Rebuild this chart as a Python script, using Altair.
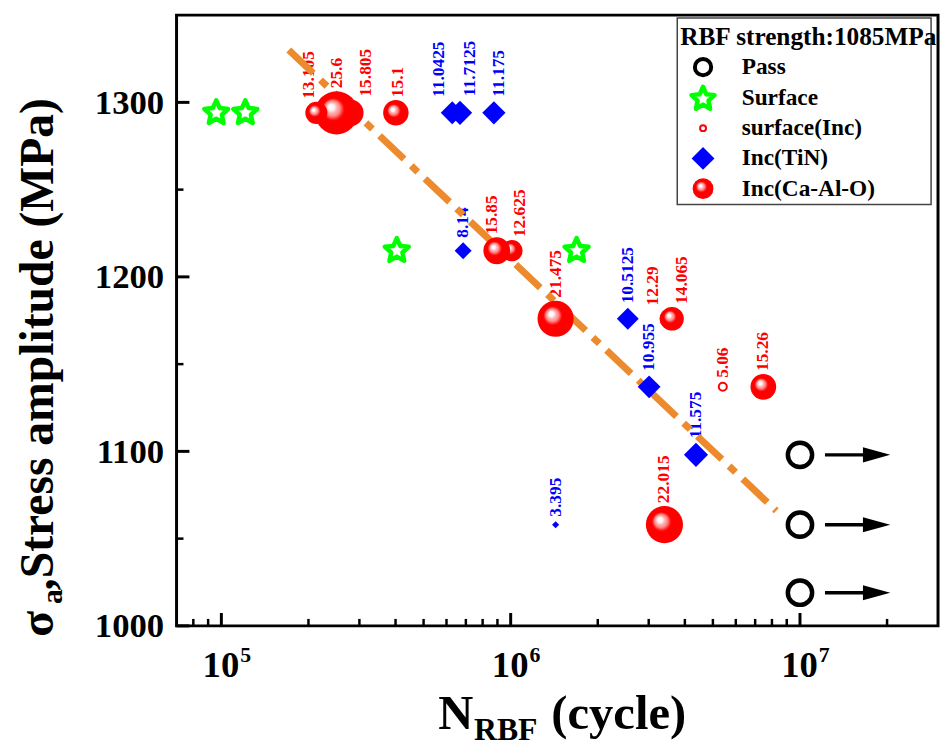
import math
import altair as alt
import pandas as pd

# ---------------- data ----------------
# Surface-initiated failures (green stars)
surface_N = [9.6e4, 1.21e5, 4.04e5, 1.69e6]
surface_S = [1294, 1294, 1215, 1215]

# Inclusion Ca-Al-O (red spheres); value = inclusion size label
cao_N = [2.79e5, 2.50e5, 2.13e5, 4.01e5, 1.01e6, 8.95e5, 1.43e6, 3.55e6, 3.61e6, 7.47e6, 3.40e6]
cao_S = [1294, 1294, 1294, 1294, 1215, 1215, 1176, 1176, 1176, 1137, 1058]
cao_v = [15.805, 25.6, 13.105, 15.1, 12.625, 15.85, 21.475, 12.29, 14.065, 15.26, 22.015]

# Inclusion TiN (blue diamonds)
tin_N = [6.28e5, 6.68e5, 8.75e5, 6.85e5, 2.54e6, 3.01e6, 4.37e6, 1.43e6]
tin_S = [1294, 1294, 1294, 1215, 1176, 1137, 1098, 1058]
tin_v = [11.0425, 11.7125, 11.175, 8.14, 10.5125, 10.955, 11.575, 3.395]

# surface(Inc) (small open red circle)
sinc_N = [5.41e6]
sinc_S = [1137]
sinc_v = [5.06]

# Run-outs (Pass)
pass_N = [1e7, 1e7, 1e7]
pass_S = [1098, 1058, 1019]

# Fitted S-N line (end points)
fit_N = [1.71e5, 8.28e6]
fit_S = [1330, 1066]

# Axis ticks
x_major = [1e5, 1e6, 1e7]
x_exp = ["5", "6", "7"]
x_minor = [8e4, 9e4, 2e5, 3e5, 4e5, 5e5, 6e5, 7e5, 8e5, 9e5,
           2e6, 3e6, 4e6, 5e6, 6e6, 7e6, 8e6, 9e6, 2e7]
y_major = [1000, 1100, 1200, 1300]
y_minor = [1050, 1150, 1250]

legend_title = "RBF strength:1085MPa"
legend_labels = ["Pass", "Surface", "surface(Inc)", "Inc(TiN)", "Inc(Ca-Al-O)"]

# label nudges (pixels, horizontal) to avoid overlapping annotations
label_nudge_px = {"13.105": -7, "15.805": 16, "25.6": 1, "15.1": 2, "12.625": 8, "15.85": -5,
                  "12.29": -17, "14.065": 10, "11.0425": -13, "11.7125": 10, "11.175": 5}

# ---------------- layout / style ----------------
W, H = 768, 616
XDOM = [7e4, 3e7]
YDOM = [1000, 1350]
DEC_PX = W / (math.log10(XDOM[1]) - math.log10(XDOM[0]))
PPM = H / (YDOM[1] - YDOM[0])
FONT = "Liberation Serif"
RED = "#FF0000"
BLUE = "#0000FF"
GREEN = "#00FF00"
ORANGE = "#EE8A2E"

X_SCALE = alt.Scale(type="log", domain=XDOM)
Y_SCALE = alt.Scale(domain=YDOM, nice=False, zero=False)
Y_AXIS = alt.Axis(values=y_major, format="d", ticks=False, domain=False, grid=False, title=None,
                  labelFont=FONT, labelFontSize=35, labelFontWeight="bold",
                  labelColor="black", labelPadding=13)


def xe(f):
    return alt.X(f, type="quantitative", scale=X_SCALE, axis=None)


def ye(f):
    return alt.Y(f, type="quantitative", scale=Y_SCALE, axis=Y_AXIS)


def star_path(r_in=0.5):
    pts = []
    for i in range(10):
        ang = math.radians(-90 + 36 * i)
        r = 1.0 if i % 2 == 0 else r_in
        pts.append(f"{r * math.cos(ang):.3f},{r * math.sin(ang):.3f}")
    return "M" + "L".join(pts) + "Z"


STAR = star_path(0.47)
ARROW = "M-1,-0.55L1,0L-1,0.55Z"

SPHERE_FILL = {
    "gradient": "radial",
    "x1": 0.36, "y1": 0.35, "r1": 0,
    "x2": 0.5, "y2": 0.5, "r2": 0.55,
    "stops": [
        {"offset": 0.0, "color": "#ffffff"},
        {"offset": 0.13, "color": "#fff4f4"},
        {"offset": 0.22, "color": "#ffb0b0"},
        {"offset": 0.32, "color": "#ff8a8a"},
        {"offset": 0.4, "color": "#ff3a3a"},
        {"offset": 0.47, "color": "#ff0000"},
        {"offset": 1.0, "color": "#ff0000"},
    ],
}

# ---------------- frames ----------------
def lab(vals):
    return [str(v) for v in vals]

cao = pd.DataFrame({"N": cao_N, "S": cao_S, "v": cao_v, "t": lab(cao_v)})
cao["nudge"] = [label_nudge_px.get(t, 0) for t in cao["t"]]
tin = pd.DataFrame({"N": tin_N, "S": tin_S, "v": tin_v, "t": lab(tin_v)})
tin["nudge"] = [label_nudge_px.get(t, 0) for t in tin["t"]]
sinc = pd.DataFrame({"N": sinc_N, "S": sinc_S, "v": sinc_v, "t": lab(sinc_v)})
sinc["nudge"] = 0
surf = pd.DataFrame({"N": surface_N, "S": surface_S})
pas = pd.DataFrame({"N": pass_N, "S": pass_S})
fit = pd.DataFrame({"N": fit_N, "S": fit_S})
one = pd.DataFrame({"k": [0]})


def label_layer(df, color, rad_factor, gap):
    return (
        alt.Chart(df)
        .transform_calculate(
            lx=f"datum.N * pow(10, datum.nudge / {DEC_PX:.4f})",
            ly=f"datum.S + (datum.v * {rad_factor} + {gap}) / {PPM:.4f}",
        )
        .mark_text(angle=270, align="left", baseline="middle", font=FONT,
                   fontWeight="bold", fontSize=17.5, color=color)
        .encode(x=xe("lx"), y=ye("ly"), text="t:N")
    )


labels_cao = label_layer(cao, RED, 0.85, 3)
labels_tin = label_layer(tin, BLUE, 1.05, 4.5)
labels_sinc = label_layer(sinc, RED, 0.8, 5)

fit_line = alt.Chart(fit).mark_line(
    color=ORANGE, strokeWidth=7, strokeDash=[34, 10, 9, 10], strokeCap="butt"
).encode(x=xe("N"), y=ye("S"))

pass_pts = alt.Chart(pas).mark_point(
    shape="circle", filled=False, stroke="black", strokeWidth=4.5, size=600, opacity=1
).encode(x=xe("N"), y=ye("S"))

arrows = (
    alt.Chart(pas)
    .transform_calculate(x1="datum.N * 1.22", x2="datum.N * 1.7")
    .mark_rule(color="black", strokeWidth=3.5)
    .encode(x=xe("x1"), x2="x2:Q", y=ye("S"))
)
heads = (
    alt.Chart(pas)
    .transform_calculate(xh="datum.N * 1.84")
    .mark_point(shape=ARROW, filled=True, color="black", size=760, opacity=1, strokeWidth=0)
    .encode(x=xe("xh"), y=ye("S"))
)

stars = alt.Chart(surf).mark_point(
    shape=STAR, filled=True, fill="white", stroke=GREEN, strokeWidth=4.5,
    strokeJoin="round", size=640, opacity=1, fillOpacity=1, strokeOpacity=1
).encode(x=xe("N"), y=ye("S"))

diamonds = (
    alt.Chart(tin)
    .transform_calculate(sz="pow(2.1 * datum.v, 2)")
    .mark_point(shape="diamond", filled=True, color=BLUE, opacity=1, strokeWidth=0)
    .encode(x=xe("N"), y=ye("S"), size=alt.Size("sz:Q", scale=None, legend=None))
)

sinc_pts = (
    alt.Chart(sinc)
    .transform_calculate(sz="pow(1.6 * datum.v, 2)")
    .mark_point(shape="circle", filled=False, stroke=RED, strokeWidth=2, opacity=1)
    .encode(x=xe("N"), y=ye("S"), size=alt.Size("sz:Q", scale=None, legend=None))
)

spheres = (
    alt.Chart(cao)
    .transform_calculate(sz="pow(1.7 * datum.v, 2)")
    .mark_point(shape="circle", filled=True, fill=SPHERE_FILL, opacity=1, strokeWidth=0)
    .encode(x=xe("N"), y=ye("S"), size=alt.Size("sz:Q", scale=None, legend=None))
)

# ---------------- ticks (inward) ----------------
xmaj = pd.DataFrame({"N": x_major, "e": x_exp})
xmin = pd.DataFrame({"N": x_minor})
ymaj = pd.DataFrame({"S": y_major})
ymin = pd.DataFrame({"S": y_minor})

xt_major = alt.Chart(xmaj).mark_rule(color="black", strokeWidth=3).encode(
    x=xe("N"), y=alt.value(H), y2=alt.value(H - 13))
xt_minor = alt.Chart(xmin).mark_rule(color="black", strokeWidth=2.5).encode(
    x=xe("N"), y=alt.value(H), y2=alt.value(H - 7))
yt_major = alt.Chart(ymaj).mark_rule(color="black", strokeWidth=3).encode(
    y=ye("S"), x=alt.value(0), x2=alt.value(13))
yt_minor = alt.Chart(ymin).mark_rule(color="black", strokeWidth=2.5).encode(
    y=ye("S"), x=alt.value(0), x2=alt.value(7))

xlab_base = alt.Chart(xmaj).mark_text(
    align="right", baseline="alphabetic", dx=18, font=FONT, fontWeight="bold",
    fontSize=37, color="black", text="10"
).encode(x=xe("N"), y=alt.value(H + 52))
xlab_exp = alt.Chart(xmaj).mark_text(
    align="left", baseline="alphabetic", dx=19, font=FONT, fontWeight="bold",
    fontSize=22, color="black"
).encode(x=xe("N"), y=alt.value(H + 36), text="e:N")

# ---------------- axis titles ----------------
def txt(s, x, y, size, angle=0, align="left", baseline="alphabetic"):
    kw = dict(align=align, baseline=baseline, font=FONT, fontWeight="bold",
              fontSize=size, color="black", text=s)
    if angle:
        kw["angle"] = angle
    return alt.Chart(one).mark_text(**kw).encode(x=alt.value(x), y=alt.value(y))

ytitle = [
    txt("σ", -125, 627, 48, angle=270),
    txt("a", -116, 594, 30, angle=270),
    txt(",Stress amplitude (MPa)", -125, 580, 48, angle=270),
]
xtitle = [
    txt("N", 264, 720, 49),
    txt("RBF", 300, 731, 32),
    txt("(cycle)", 378, 720, 49),
]

# ---------------- legend ----------------
LX0, LX1, LY0, LY1 = 505, 761, 3, 191
SYM_X, TXT_X = 531, 570
ROW_Y = [52.5, 83.5, 114, 144.5, 175]

leg = [
    alt.Chart(one).mark_rect(fill="white", stroke="#444444", strokeWidth=1.5).encode(
        x=alt.value(LX0), x2=alt.value(LX1), y=alt.value(LY0), y2=alt.value(LY1)),
    txt(legend_title, 508, 22, 25.5, baseline="middle"),
    alt.Chart(one).mark_point(shape="circle", filled=False, stroke="black", strokeWidth=4,
                              size=270, opacity=1).encode(x=alt.value(SYM_X), y=alt.value(ROW_Y[0])),
    alt.Chart(one).mark_point(shape=STAR, filled=True, fill="white", stroke=GREEN, strokeWidth=4.5,
                              strokeJoin="round", size=600, opacity=1).encode(
        x=alt.value(SYM_X), y=alt.value(ROW_Y[1] + 1)),
    alt.Chart(one).mark_point(shape="circle", filled=False, stroke=RED, strokeWidth=2,
                              size=36, opacity=1).encode(x=alt.value(SYM_X), y=alt.value(ROW_Y[2])),
    alt.Chart(one).mark_point(shape="diamond", filled=True, color=BLUE, size=530, opacity=1,
                              strokeWidth=0).encode(x=alt.value(SYM_X), y=alt.value(ROW_Y[3])),
    alt.Chart(one).mark_point(shape="circle", filled=True, fill=SPHERE_FILL, size=441, opacity=1,
                              strokeWidth=0).encode(x=alt.value(SYM_X), y=alt.value(ROW_Y[4])),
]
for lbl, yy in zip(legend_labels, ROW_Y):
    leg.append(txt(lbl, TXT_X, yy, 23.5, baseline="middle"))

layers = ([labels_cao, labels_tin, labels_sinc, fit_line, arrows, heads, pass_pts, stars,
           diamonds, sinc_pts, spheres, xt_major, xt_minor, yt_major, yt_minor,
           xlab_base, xlab_exp] + ytitle + xtitle + leg)

chart = (
    alt.layer(*layers)
    .properties(width=W, height=H,
                padding={"left": 170, "top": 4, "right": 2, "bottom": 122},
                autosize=alt.AutoSizeParams(type="none"))
    .configure_view(stroke="black", strokeWidth=3)
)

chart.save("out.html", embed_options={"renderer": "svg", "actions": False})
